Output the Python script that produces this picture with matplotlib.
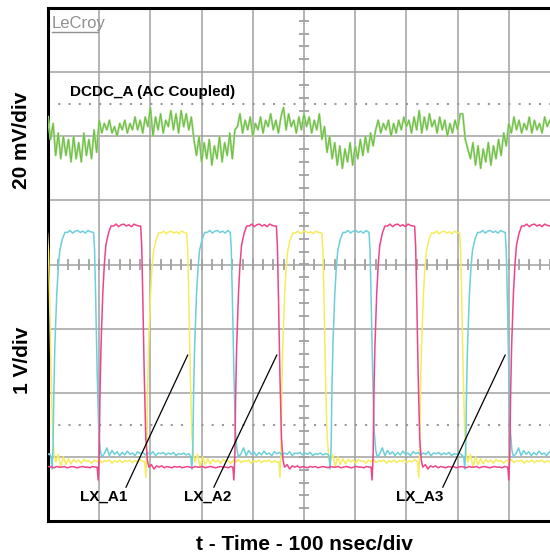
import numpy as np
import matplotlib.pyplot as plt

plt.rcParams['font.family'] = ['Liberation Sans', 'DejaVu Sans']

# screen: 100 ns per division horizontally, vertical axis in divisions (-4..4)
X_DIVS = 10
NS_PER_DIV = 100

# DCDC_A output ripple (AC coupled), mV, one sample every 5 ns starting at 0 ns
dcdc_step_ns = 5
dcdc_mv = [
    6, -1, 4, -6, 1, -7, 0, -6, -1, -8, 0, -7, -2, -8, 1, -6, -1, -7, 2, -5,
    5, 1, 4, 2, 5, 1, 3, 0, 4, 2, 5, 1, 4, 2, 6, 2, 5, 1, 6, 3,
    9, 0, 6, 2, 7, 1, 5, 3, 8, 2, 7, 1, 8, 3, 7, 2, 6,
    -1, -6, 0, -8, -2, -7, -1, -9, -3, -7, 0, -8, -2, -6, 1, -7, 2,
    3, 7, 1, 5, 2, 6, 0, 4, 2, 6, 1, 5, 3, 7, 2, 5, 1, 6, 9, 2, 7, 3, 5, 1, 6, 2, 7, 3, 6, 1, 5, 2,
    7, -1, 3, -5, 0, -7, -2, -9, -3, -10, -4, -8, -2, -9, -3, -7, -1, -6, 0, -5, 1, -3,
    2, 5, 1, 4, 2, 5, 0, 4, 1, 5, 2, 6, 3, 5, 1, 6, 2, 8, 1, 6, 2, 7, 3, 5, 1, 6, 2, 5, 0, 4, 1, 5, 2, 7,
    7, -1, -4, -7, -2, -9, -3, -10, -4, -8, -2, -9, -3, -7, -1, -6, 1, -3,
    4, 1, 6, 2, 5, 1, 4, 2, 6, 1, 5, 2, 4, 1, 6, 3, 5, 2, 7, 3,
]
dcdc_offset_div = 2.0
dcdc_mv_per_div = 20

# switch nodes (1 V/div): rising edge starts and on-times in ns
lx_a1_rise_ns = [-79, 193, 455, 726, 996]
lx_a1_on_ns = [78, 78, 80, 78, 78]
lx_a2_rise_ns = [-170, 100, 365, 635, 902]
lx_a2_on_ns = [81, 81, 81, 81, 81]
lx_a3_rise_ns = [-260, 10, 283, 553, 816]
lx_a3_on_ns = [77, 79, 73, 74, 77]

lx_high_v = {'LX_A1': 3.57, 'LX_A2': 3.76, 'LX_A3': 3.50}
lx_ground_div = {'LX_A1': -3.08, 'LX_A2': -3.16, 'LX_A3': -3.00}
lx_spike_v = {'LX_A1': -0.24, 'LX_A2': -0.20, 'LX_A3': -0.19}

# edge shapes as fraction of the high level
rise_t = [0, 1.5, 3.5, 7, 10, 13, 18, 23]
rise_f = [0.05, 0.30, 0.50, 0.72, 0.84, 0.92, 0.97, 1.0]
fall_t = [0, 2, 4, 7, 10, 13, 16]
fall_f = [1.0, 0.92, 0.72, 0.38, 0.12, 0.03, 0.0]

top_ripple_v = [0.0, 0.03, -0.01, 0.02, 0.03, 0.0, 0.02, -0.01, 0.03, 0.01, 0.0, 0.02]
lx_a1_low_v = [0.12, -0.07, 0.08, -0.04, 0.05, -0.03, 0.04, 0.0, 0.03, -0.02, 0.04, 0.01,
               0.02, -0.02, 0.03, 0.0, 0.04, -0.01, 0.02, 0.01, 0.03, -0.02, 0.02, 0.0,
               0.03, -0.01, 0.02, 0.01, 0.03, -0.01, 0.02, 0.0, 0.04, 0.01, 0.02, -0.02]
lx_a2_low_v = [0.04, -0.03, 0.02, 0.0, 0.02, -0.01, 0.01, 0.0, -0.01, 0.01, 0.0, 0.01,
               -0.01, 0.0, 0.01, 0.0, -0.01, 0.01, 0.0, 0.0, 0.01, -0.01, 0.0, 0.01,
               0.0, -0.01, 0.0, 0.01, 0.0, 0.0, -0.01, 0.01, 0.0, 0.0, 0.01, 0.0]
lx_a3_low_v = [0.05, 0.14, 0.02, 0.10, 0.04, 0.08, 0.02, 0.07, 0.03, 0.09, 0.04, 0.06,
               0.02, 0.08, 0.05, 0.07, 0.03, 0.06, 0.04, 0.08, 0.02, 0.06, 0.05, 0.07,
               0.03, 0.06, 0.04, 0.07, 0.02, 0.05, 0.04, 0.06, 0.03, 0.05, 0.04, 0.06]

step = 5


def build_trace(rises, ons, high, low_ripple, spike):
    t, v = [], []
    prev_end = rises[0] - 150
    for r, w in zip(rises, ons):
        k = 0
        while prev_end + (k + 1) * step < r - 4:
            t.append(prev_end + (k + 1) * step)
            v.append(low_ripple[k % len(low_ripple)])
            k += 1
        t += [r - 4, r - 2]
        v += [0.0, spike]
        for rt, rf in zip(rise_t, rise_f):
            t.append(r + rt)
            v.append(rf * high)
        k = 0
        while 28 + k * step < w - 2:
            t.append(r + 28 + k * step)
            v.append(high + top_ripple_v[k % len(top_ripple_v)])
            k += 1
        for ft, ff in zip(fall_t, fall_f):
            t.append(r + w + ft)
            v.append(ff * high)
        prev_end = r + w + fall_t[-1]
    k = 0
    while prev_end + (k + 1) * step < 1100:
        t.append(prev_end + (k + 1) * step)
        v.append(low_ripple[k % len(low_ripple)])
        k += 1
    return np.array(t), np.array(v)


fig = plt.figure(figsize=(5.5, 5.56), dpi=100)
ax = fig.add_axes([48 / 550, 35 / 556, 512 / 550, 513 / 556])
ax.set_xlim(0, X_DIVS * NS_PER_DIV)
ax.set_ylim(-4, 4)

# graticule
for xd in range(1, X_DIVS):
    ax.axvline(xd * NS_PER_DIV, color='#b4b4b4', lw=1.4, zorder=1)
for yd in range(-3, 4):
    ax.axhline(yd, color='#a0a0a0', lw=1.1, zorder=1)
minor_x = np.arange(0, X_DIVS * NS_PER_DIV + 1, 20)
minor_y = np.arange(-4, 4.01, 0.2)
ax.vlines(minor_x, -0.08, 0.08, color='#a0a0a0', lw=1.3, zorder=1)
ax.hlines(minor_y, 490, 510, color='#a0a0a0', lw=1.3, zorder=1)
for yd in (2.5, -2.5):
    ax.axhline(yd, color='#9a9a9a', lw=1.5, linestyle=(0, (1, 3.91)), zorder=1)

# DCDC_A ripple
t_dcdc = np.arange(len(dcdc_mv)) * dcdc_step_ns
y_dcdc = dcdc_offset_div + np.array(dcdc_mv) / dcdc_mv_per_div
ax.plot(t_dcdc, y_dcdc, color='#b8dfa0', lw=1.6, zorder=3)
ax.plot(t_dcdc, y_dcdc, color='#6dbf45', lw=0.8, zorder=3)

# switch nodes
traces = [
    ('LX_A1', lx_a1_rise_ns, lx_a1_on_ns, lx_a1_low_v, '#f6ec5c'),
    ('LX_A3', lx_a3_rise_ns, lx_a3_on_ns, lx_a3_low_v, '#6ccfdb'),
    ('LX_A2', lx_a2_rise_ns, lx_a2_on_ns, lx_a2_low_v, '#ef4489'),
]
for name, rises, ons, low, color in traces:
    t, v = build_trace(rises, ons, lx_high_v[name], low, lx_spike_v[name])
    ax.plot(t, lx_ground_div[name] + v, color=color, lw=1.1, zorder=4)

# labels
ax.text(43, 2.63, 'DCDC_A (AC Coupled)', fontsize=11, fontweight='bold',
        ha='left', va='baseline', zorder=5)
ax.text(7.8, 3.69, 'LeCroy', fontsize=12, color='#909090',
        family=['Liberation Sans Narrow', 'Liberation Sans', 'DejaVu Sans'],
        ha='left', va='baseline', zorder=5)
ax.plot([7.8, 97.6], [3.63, 3.63], color='#909090', lw=1.0, zorder=5)

annotations = [
    ('LX_A1', (273, -1.41), (109, -3.69), 0.94),
    ('LX_A2', (447, -1.41), (312, -3.69), 0.60),
    ('LX_A3', (893, -1.41), (725, -3.69), 0.97),
]
for label, xy, xytext, rx in annotations:
    ax.annotate(label, xy=xy, xytext=xytext, fontsize=11, fontweight='bold',
                ha='center', va='baseline', zorder=6,
                arrowprops=dict(arrowstyle='-', color='black', lw=0.9,
                                shrinkA=0, shrinkB=0, relpos=(rx, 1.0)))

ax.set_xticks([])
ax.set_yticks([])
for side in ('left', 'top', 'bottom'):
    ax.spines[side].set_linewidth(2.2)
    ax.spines[side].set_color('black')
ax.spines['right'].set_visible(False)

fig.text(22 / 550, 1 - 140 / 556, '20 mV/div', rotation=90, fontsize=15,
         fontweight='bold', ha='center', va='center')
fig.text(22 / 550, 1 - 360 / 556, '1 V/div', rotation=90, fontsize=15,
         fontweight='bold', ha='center', va='center')
fig.text(304 / 550, 1 - 545 / 556, 't - Time - 100 nsec/div', fontsize=15,
         fontweight='bold', ha='center', va='center')

fig.savefig('out.png', dpi=100)
